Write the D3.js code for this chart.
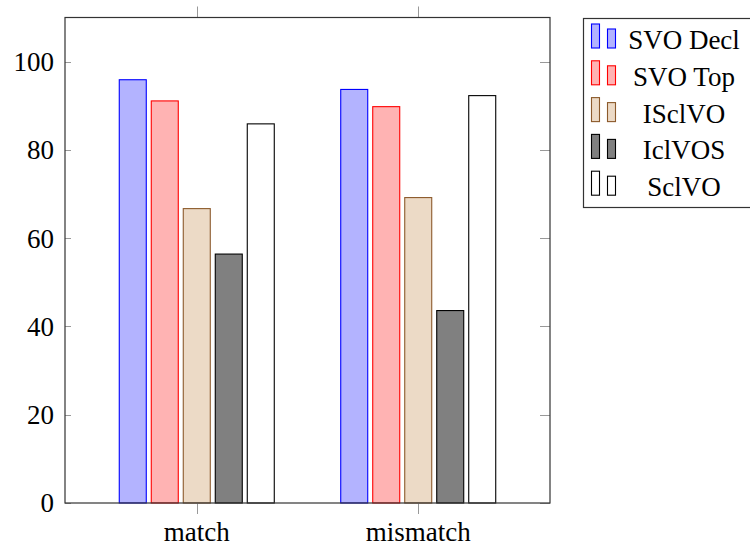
<!DOCTYPE html>
<html lang="en">
<head>
    <meta charset="UTF-8">
    <script src="https://d3js.org/d3.v7.min.js"></script>
    <title>Word order acceptance</title>
    <style>
        body { margin: 0; background: white; }
        svg { display: block; }
        text { font-family: "Liberation Serif", "DejaVu Serif", serif; fill: black; }
    </style>
</head>
<body>
<script>
    // data
    var categories = ["match", "mismatch"];
    var seriesNames = ["SVO Decl", "SVO Top", "ISclVO", "IclVOS", "SclVO"];
    var svoDecl = [95.9, 93.7];
    var svoTop = [91.1, 89.8];
    var isclvo = [66.7, 69.2];
    var iclvos = [56.4, 43.6];
    var sclvo = [85.9, 92.3];
    var yTicks = [0, 20, 40, 60, 80, 100];

    var fills = ["#b3b3ff", "#ffb3b3", "#ecdac6", "#808080", "#ffffff"];
    var strokes = ["#0000ff", "#ff0000", "#8c5a2b", "#000000", "#000000"];
    var values = [svoDecl, svoTop, isclvo, iclvos, sclvo];

    var svg = d3.select("body").append("svg")
        .attr("width", 750)
        .attr("height", 548);

    var plotLeft = 65, plotRight = 550, plotTop = 17.5, plotBottom = 503;

    var xScale = d3.scalePoint().domain(categories).range([plotLeft, plotRight]).padding(0.595);
    var yScale = d3.scaleLinear().domain([0, 110]).range([plotBottom, plotTop]);
    var barShift = d3.scaleBand().domain(seriesNames).range([-80, 80]);
    var barWidth = 27;

    // bars
    seriesNames.forEach(function(name, i) {
        svg.append("g").selectAll("rect")
            .data(categories)
            .enter().append("rect")
            .attr("x", function(c) { return xScale(c) + barShift(name) + (barShift.bandwidth() - barWidth) / 2; })
            .attr("y", function(c, j) { return yScale(values[i][j]); })
            .attr("width", barWidth)
            .attr("height", function(c, j) { return plotBottom - yScale(values[i][j]); })
            .attr("fill", fills[i])
            .attr("stroke", strokes[i])
            .attr("stroke-width", 1.1);
    });

    // y ticks on both sides, pointing inward
    var tickG = svg.append("g").attr("stroke", "#999").attr("stroke-width", 1);
    yTicks.forEach(function(t) {
        var y = Math.round(yScale(t)) + 0.5;
        tickG.append("line").attr("x1", plotLeft).attr("x2", plotLeft + 6).attr("y1", y).attr("y2", y);
        tickG.append("line").attr("x1", plotRight - 10).attr("x2", plotRight).attr("y1", y).attr("y2", y);
        svg.append("text")
            .attr("x", 54)
            .attr("y", yScale(t))
            .attr("dy", "0.35em")
            .attr("text-anchor", "end")
            .style("font-size", "27px")
            .text(t);
    });

    // x ticks outside, top and bottom
    categories.forEach(function(c) {
        var x = Math.round(xScale(c)) + 0.5;
        tickG.append("line").attr("x1", x).attr("x2", x).attr("y1", plotTop - 11).attr("y2", plotTop);
        tickG.append("line").attr("x1", x).attr("x2", x).attr("y1", plotBottom).attr("y2", plotBottom + 11);
        svg.append("text")
            .attr("x", xScale(c))
            .attr("y", 541)
            .attr("text-anchor", "middle")
            .style("font-size", "27px")
            .text(c);
    });

    // frame
    svg.append("rect")
        .attr("x", plotLeft).attr("y", plotTop)
        .attr("width", plotRight - plotLeft).attr("height", plotBottom - plotTop)
        .attr("fill", "none")
        .attr("stroke", "#333")
        .attr("stroke-width", 1.2);

    // legend
    var legend = svg.append("g");
    legend.append("rect")
        .attr("x", 583.5).attr("y", 18.5)
        .attr("width", 170).attr("height", 189)
        .attr("fill", "white")
        .attr("stroke", "#333")
        .attr("stroke-width", 1.2);
    seriesNames.forEach(function(name, i) {
        var cy = 36 + i * 36.8;
        legend.append("rect")
            .attr("x", 591.5).attr("y", cy - 12)
            .attr("width", 8).attr("height", 24)
            .attr("fill", fills[i]).attr("stroke", strokes[i]).attr("stroke-width", 1.1);
        legend.append("rect")
            .attr("x", 607.5).attr("y", cy - 7)
            .attr("width", 8).attr("height", 19)
            .attr("fill", fills[i]).attr("stroke", strokes[i]).attr("stroke-width", 1.1);
        legend.append("text")
            .attr("x", 684)
            .attr("y", cy + 13)
            .attr("text-anchor", "middle")
            .style("font-size", "27px")
            .text(name);
    });
</script>
</body>
</html>
